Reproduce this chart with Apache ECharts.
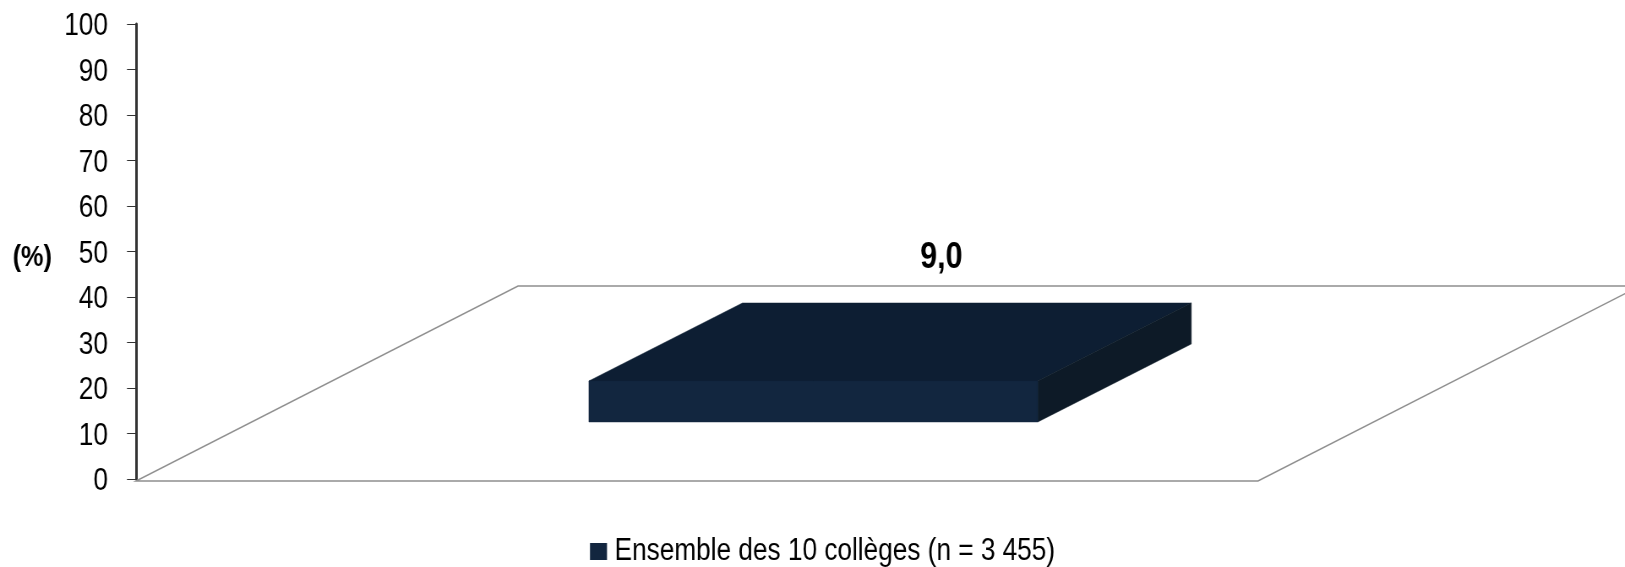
<!DOCTYPE html>
<html>
<head>
<meta charset="utf-8">
<style>
  html, body { margin: 0; padding: 0; background: #fff; overflow: hidden; }
  /* no narrow font installed: draw wider and squeeze the whole chart horizontally */
  #chart { width: 1924px; height: 567px; transform: scaleX(0.845); transform-origin: 0 0; }
</style>
</head>
<body>
<div id="chart"></div>
<script src="https://cdn.jsdelivr.net/npm/echarts@6/dist/echarts.min.js"></script>
<script>
const categories = ['Ensemble']
const seriesName = 'Ensemble des 10 collèges (n = 3 455)'
const values = [9.0]
const yTicks = { min: 0, max: 100, interval: 10 }

const fontFamily = '"Liberation Sans", Arial, sans-serif'
const colors = { front: '#12263f', top: '#0d1e33', side: '#0d1a27', floor: '#8f8f8f', axis: '#333333' }

const squeeze = 0.845
const sx = v => v / squeeze

// fake 3D: the floor goes back along this vector, the bar sits inside it
const depthX = sx(382)
const depthY = -194
const barDepthStart = 0.294
const barDepthEnd = 0.696
const barWidthRatio = 0.4
const barShift = sx(4)

const chart = echarts.init(document.getElementById('chart'))

const renderFloor = (params, api) => {
  const start = api.coord([api.value(0), 0])
  const band = api.size([1, 0])[0]
  const left = start[0] - band / 2
  const right = start[0] + band / 2
  const y = start[1] + 2
  return {
    type: 'polygon',
    shape: {
      points: [[left, y], [right, y], [right + depthX, y + depthY - 1], [left + depthX, y + depthY - 1]]
    },
    style: { fill: '#fff', stroke: colors.floor, lineWidth: 1.5 }
  }
}

const renderBar = (params, api) => {
  const base = api.coord([api.value(0), 0])
  const top = api.coord([api.value(0), api.value(1)])
  const band = api.size([1, 0])[0]
  const half = band * barWidthRatio / 2
  const dx = depthX * barDepthStart + barShift
  const dy = depthY * barDepthStart
  const bx = depthX * (barDepthEnd - barDepthStart)
  const by = depthY * (barDepthEnd - barDepthStart)
  const x0 = base[0] - half + dx
  const x1 = base[0] + half + dx
  const yBottom = base[1] + dy
  const yTop = top[1] + dy
  const poly = (points, fill) => ({
    type: 'polygon',
    shape: { points },
    style: { fill, stroke: fill, lineWidth: 0.5 }
  })
  return {
    type: 'group',
    children: [
      poly([[x0, yTop], [x1, yTop], [x1 + bx, yTop + by], [x0 + bx, yTop + by]], colors.top),
      poly([[x1, yTop], [x1 + bx, yTop + by], [x1 + bx, yBottom + by], [x1, yBottom]], colors.side),
      poly([[x0, yTop], [x1, yTop], [x1, yBottom], [x0, yBottom]], colors.front),
      {
        type: 'text',
        x: x1 - half + sx(128),
        y: yTop - 123,
        style: {
          text: api.value(1).toFixed(1).replace('.', ','),
          font: 'bold 36px ' + fontFamily,
          fill: '#000',
          align: 'center',
          verticalAlign: 'middle'
        }
      }
    ]
  }
}

chart.setOption({
  animation: false,
  backgroundColor: '#fff',
  grid: { left: sx(136), top: 24, width: sx(1122), height: 455, outerBoundsMode: 'none' },
  legend: {
    data: [seriesName],
    left: sx(590),
    top: 536,
    padding: 0,
    itemWidth: sx(17),
    itemHeight: 17,
    icon: 'rect',
    textStyle: { fontFamily, fontSize: 31, color: '#000', padding: [7, 0, 0, 4] }
  },
  xAxis: {
    type: 'category',
    data: categories,
    axisLine: { show: false },
    axisTick: { show: false },
    axisLabel: { show: false }
  },
  yAxis: {
    type: 'value',
    min: yTicks.min,
    max: yTicks.max,
    interval: yTicks.interval,
    name: '(%)',
    nameLocation: 'middle',
    nameRotate: 0,
    nameGap: sx(84),
    nameTextStyle: { fontFamily, fontSize: 30, fontWeight: 'bold', color: '#000', verticalAlign: 'top', padding: [-9, 0, 0, 0] },
    axisLine: { show: true, lineStyle: { color: colors.axis, width: 3 } },
    axisTick: { show: true, length: sx(9), lineStyle: { color: colors.axis, width: 1 } },
    axisLabel: { margin: sx(28), fontFamily, fontSize: 31, color: '#000', verticalAlign: 'top', padding: [-13, 0, 0, 0] },
    splitLine: { show: false }
  },
  series: [
    {
      type: 'custom',
      name: 'floor',
      renderItem: renderFloor,
      data: categories.map((c, i) => [i, 0]),
      silent: true,
      z: 1
    },
    {
      type: 'custom',
      name: seriesName,
      renderItem: renderBar,
      data: categories.map((c, i) => [i, values[i]]),
      itemStyle: { color: colors.front },
      z: 2
    }
  ]
})
</script>
</body>
</html>
